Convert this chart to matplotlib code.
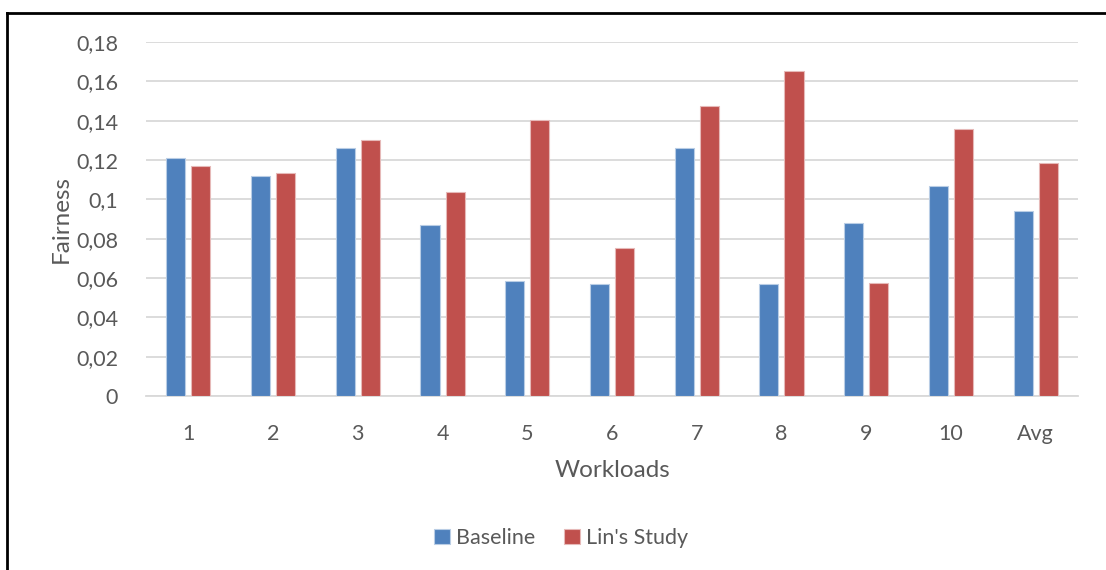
import matplotlib.pyplot as plt
from matplotlib.lines import Line2D
from matplotlib.ticker import FuncFormatter, MultipleLocator
import numpy as np

plt.rcParams['font.family'] = ['Lato', 'DejaVu Sans']

workloads = ['1', '2', '3', '4', '5', '6', '7', '8', '9', '10', 'Avg']
baseline = [0.1212, 0.1119, 0.1262, 0.0867, 0.0586, 0.0571,
            0.1259, 0.0571, 0.0878, 0.1068, 0.0940]
lin_study = [0.1171, 0.1134, 0.1300, 0.1036, 0.1404, 0.0754,
             0.1473, 0.1652, 0.0572, 0.1359, 0.1185]

blue = '#4F81BD'
red = '#C0504D'
text_col = '#595959'
grid_col = '#D9D9D9'

fig = plt.figure(figsize=(11.06, 5.70), dpi=100)
ax = fig.add_axes([0.132, 0.3053, 0.8427, 0.621])

x = np.arange(len(workloads))
w = 0.225
off = 0.148
ax.bar(x - off, baseline, w, color=blue, edgecolor='#B9CDE5', linewidth=0.8,
       label='Baseline', zorder=3)
ax.bar(x + off, lin_study, w, color=red, edgecolor='#E6B9B8', linewidth=0.8,
       label="Lin's Study", zorder=3)

ax.set_xlim(-0.5, len(workloads) - 0.5)
ax.set_ylim(0, 0.18)
ax.yaxis.set_major_locator(MultipleLocator(0.02))
ax.yaxis.set_major_formatter(
    FuncFormatter(lambda v, p: ('%g' % round(v, 2)).replace('.', ',')))
ax.set_xticks(x)
ax.set_xticklabels(workloads)

ax.grid(axis='y', color=grid_col, linewidth=1.3, zorder=0)
ax.set_axisbelow(True)
for s in ['top', 'right', 'left']:
    ax.spines[s].set_visible(False)
ax.spines['bottom'].set_color(grid_col)
ax.spines['bottom'].set_linewidth(1.3)

ax.tick_params(axis='both', length=0, labelsize=15.5, labelcolor=text_col)
ax.tick_params(axis='y', pad=20)
ax.tick_params(axis='x', pad=20)

ax.set_xlabel('Workloads', fontsize=17.5, color=text_col, labelpad=12)
ax.set_ylabel('Fairness', fontsize=17.5, color=text_col, labelpad=3)

ax.legend(loc='center', bbox_to_anchor=(561 / 1106, 32 / 570),
          bbox_transform=fig.transFigure, ncol=2, frameon=False,
          fontsize=15.5, labelcolor=text_col, handlelength=0.75,
          handleheight=0.75, handletextpad=0.3, columnspacing=1.3)

# outer chart border (top and left edges)
fig.add_artist(Line2D([7 / 1106, 1.0], [1 - 13 / 570] * 2,
                      transform=fig.transFigure, color='black', linewidth=2))
fig.add_artist(Line2D([7 / 1106] * 2, [0.0, 1 - 13 / 570],
                      transform=fig.transFigure, color='black', linewidth=2))

fig.savefig('out.png', dpi=100)
